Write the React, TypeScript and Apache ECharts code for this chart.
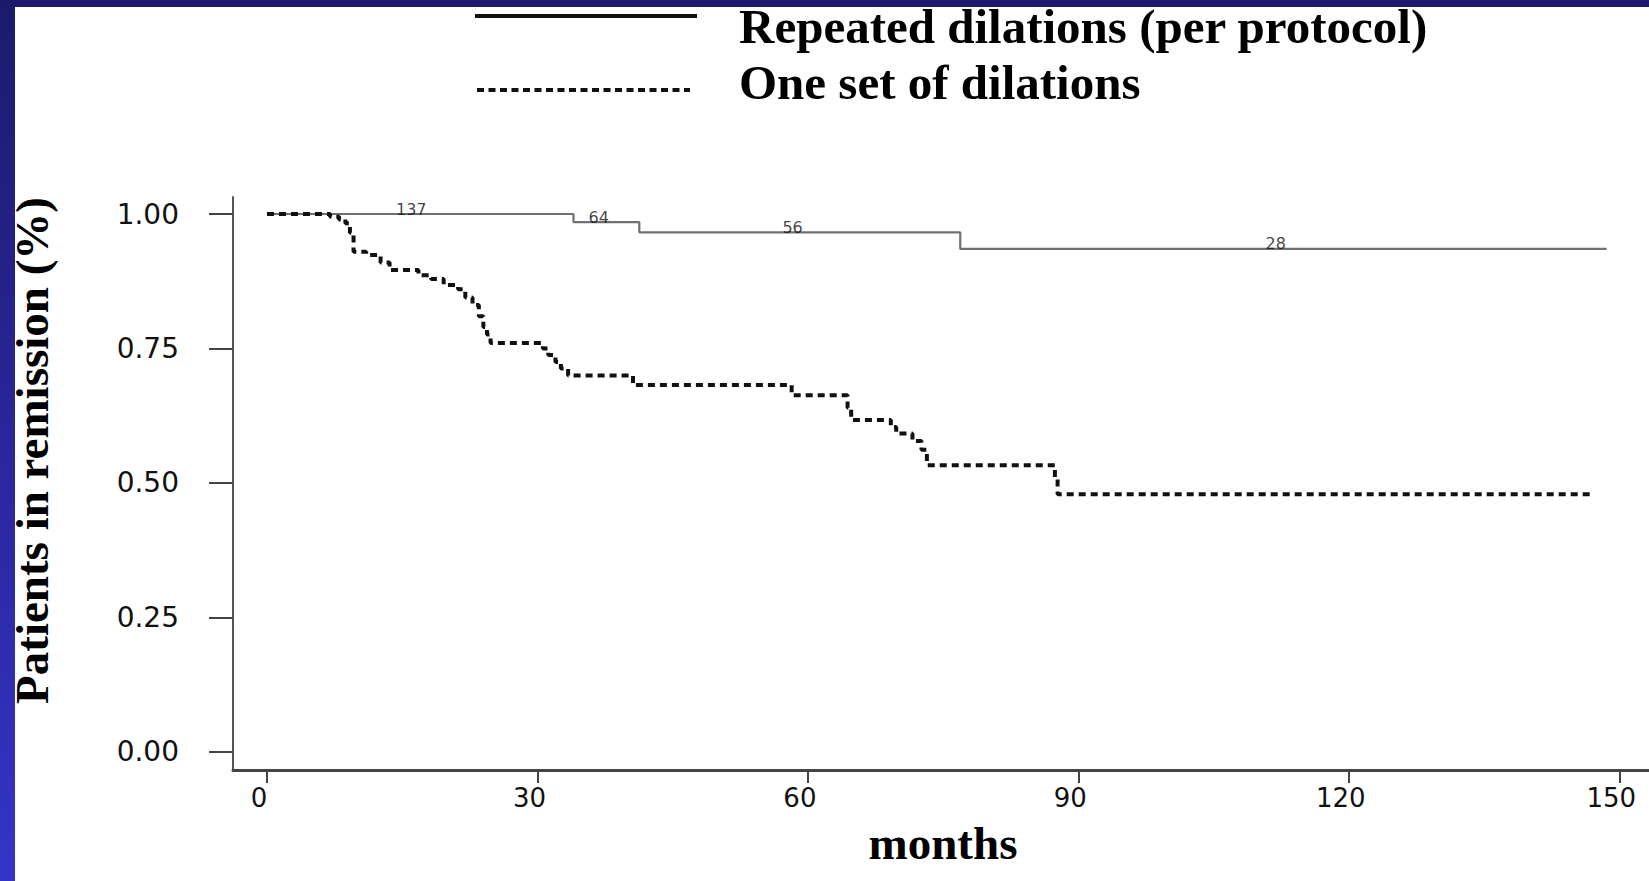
import React, { useEffect, useRef } from 'react';
import * as echarts from 'echarts';

// ---- Data ----
const xTicks = [0, 30, 60, 90, 120, 150];
const yTicks = [0, 0.25, 0.5, 0.75, 1.0];

const xTitle = 'months';
const yTitle = 'Patients in remission (%)';
const seriesNames = ['Repeated dilations (per protocol)', 'One set of dilations'];

const repeatedMonths = [0, 34, 41.3, 76.9, 148.6];
const repeatedSurvival = [1.0, 0.985, 0.966, 0.935, 0.935];

const oneSetMonths = [
  0, 7.0, 8.0, 8.7, 9.2, 9.6, 11.0, 12.6, 13.6, 16.8, 18.2, 19.6, 21.2, 22.0, 22.8, 23.5, 24.0,
  24.4, 24.8, 30.6, 31.2, 32.0, 32.6, 33.4, 40.6, 58.2, 64.4, 64.8, 69.2, 69.8, 71.6, 72.6, 73.2,
  87.4, 87.7, 147.2,
];
const oneSetSurvival = [
  1.0, 0.995, 0.99, 0.983, 0.965, 0.93, 0.924, 0.91, 0.896, 0.886, 0.879, 0.868, 0.86, 0.845, 0.831,
  0.81, 0.79, 0.776, 0.76, 0.75, 0.738, 0.725, 0.713, 0.7, 0.682, 0.663, 0.64, 0.617, 0.604, 0.592,
  0.578, 0.562, 0.533, 0.51, 0.479, 0.479,
];

const atRiskMonths = [16, 36.8, 58.3, 111.9];
const atRiskCounts = [137, 64, 56, 28];

function stepValueAt(months: number[], values: number[], t: number) {
  let v = values[0];
  for (let i = 0; i < months.length; i++) {
    if (months[i] <= t) v = values[i];
  }
  return v;
}

export default function App() {
  const ref = useRef<HTMLDivElement>(null);

  useEffect(() => {
    const el = ref.current!;
    const chart = echarts.init(el, null, { renderer: 'svg' });

    const repeatedData = repeatedMonths.map((m, i) => [m, repeatedSurvival[i]]);
    const oneSetData = oneSetMonths.map((m, i) => [m, oneSetSurvival[i]]);
    const atRiskData = atRiskMonths.map((m, i) => [
      m,
      stepValueAt(repeatedMonths, repeatedSurvival, m),
      atRiskCounts[i],
    ]);

    const serif = '"Liberation Serif", "Times New Roman", serif';
    const sans = '"DejaVu Sans", Arial, sans-serif';

    const option: any = {
      animation: false,
      backgroundColor: '#ffffff',
      grid: { left: 233, right: 0, top: 197, bottom: 111, containLabel: false, outerBoundsMode: 'none' },
      xAxis: {
        type: 'value',
        min: -3.77,
        max: 153.3,
        axisLine: { show: true, onZero: false, lineStyle: { color: '#444', width: 3 } },
        axisTick: {
          show: true,
          length: 13,
          customValues: xTicks,
          lineStyle: { color: '#444', width: 2 },
        },
        axisLabel: {
          customValues: xTicks,
          fontFamily: sans,
          fontSize: 26,
          color: '#111',
          margin: 15,
          padding: [0, 16, 0, 0],
        },
        splitLine: { show: false },
      },
      yAxis: {
        type: 'value',
        min: -0.0335,
        max: 1.0316,
        name: yTitle,
        nameLocation: 'middle',
        nameRotate: 90,
        nameGap: 178,
        nameMoveOverlap: false,
        nameTextStyle: {
          fontFamily: serif,
          fontWeight: 'bold',
          fontSize: 47,
          color: '#000',
          padding: [0, 0, 0, 66],
        },
        axisLine: { show: true, onZero: false, lineStyle: { color: '#555', width: 2 } },
        axisTick: {
          show: true,
          length: 24,
          customValues: yTicks,
          lineStyle: { color: '#444', width: 2 },
        },
        axisLabel: {
          customValues: yTicks,
          formatter: (v: number) => v.toFixed(2),
          fontFamily: sans,
          fontSize: 28,
          color: '#111',
          margin: 54,
        },
        splitLine: { show: false },
      },
      series: [
        {
          name: seriesNames[0],
          type: 'line',
          step: 'end',
          symbol: 'none',
          data: repeatedData,
          lineStyle: { color: '#707070', width: 2.2 },
          z: 3,
        },
        {
          name: seriesNames[1],
          type: 'line',
          step: 'end',
          symbol: 'none',
          data: oneSetData,
          lineStyle: { color: '#111', width: 4, type: [7, 5], cap: 'butt' },
          z: 4,
        },
        {
          name: 'at risk',
          type: 'scatter',
          symbolSize: 0,
          data: atRiskData,
          label: {
            show: true,
            position: 'top',
            distance: -3,
            formatter: (p: any) => String(p.value[2]),
            fontFamily: sans,
            fontSize: 16,
            color: '#111',
          },
          z: 5,
        },
      ],
      graphic: [
        {
          type: 'rect',
          z: 100,
          shape: { x: 0, y: 0, width: 1649, height: 7 },
          style: { fill: '#1d1a6c' },
        },
        {
          type: 'rect',
          z: 100,
          shape: { x: 0, y: 0, width: 15, height: 881 },
          style: {
            fill: new echarts.graphic.LinearGradient(0, 0, 0, 1, [
              { offset: 0, color: '#1d1a6c' },
              { offset: 1, color: '#3434c8' },
            ]),
          },
        },
        {
          type: 'line',
          z: 50,
          shape: { x1: 475, y1: 16, x2: 697, y2: 16 },
          style: { stroke: '#111', lineWidth: 4 },
        },
        {
          type: 'line',
          z: 50,
          shape: { x1: 477, y1: 90, x2: 690, y2: 90 },
          style: { stroke: '#111', lineWidth: 4, lineDash: [7, 4.5] },
        },
        {
          type: 'text',
          z: 50,
          x: 739,
          y: 26,
          style: {
            text: seriesNames[0],
            fontFamily: serif,
            fontWeight: 'bold',
            fontSize: 49,
            fill: '#000',
            align: 'left',
            verticalAlign: 'middle',
          },
        },
        {
          type: 'text',
          z: 50,
          x: 739,
          y: 82,
          style: {
            text: seriesNames[1],
            fontFamily: serif,
            fontWeight: 'bold',
            fontSize: 49,
            fill: '#000',
            align: 'left',
            verticalAlign: 'middle',
          },
        },
        {
          type: 'text',
          z: 50,
          x: 943,
          y: 843,
          style: {
            text: xTitle,
            fontFamily: serif,
            fontWeight: 'bold',
            fontSize: 47,
            fill: '#000',
            align: 'center',
            verticalAlign: 'middle',
          },
        },
      ],
    };

    chart.setOption(option);
    return () => chart.dispose();
  }, []);

  return (
    <div
      ref={ref}
      style={{ position: 'fixed', left: 0, top: 0, width: 1649, height: 881, background: '#fff' }}
    />
  );
}
